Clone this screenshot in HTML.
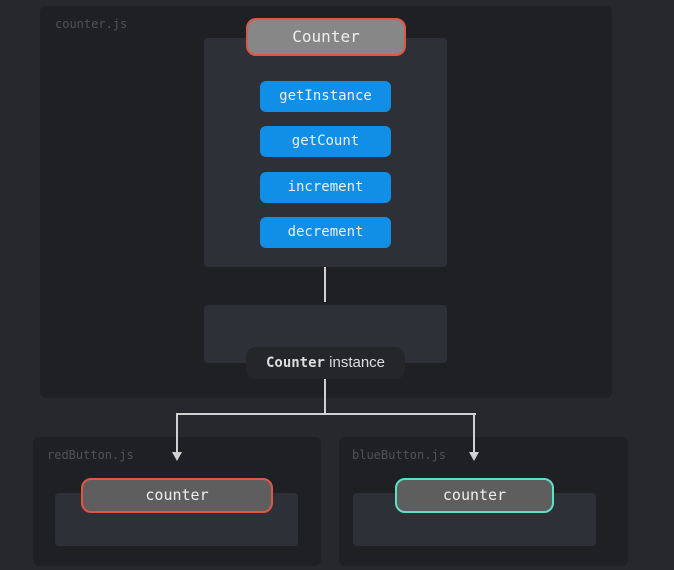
<!DOCTYPE html>
<html><head><meta charset="utf-8"><style>
body{margin:0;width:674px;height:570px;background:#27282c;position:relative;overflow:hidden;font-family:"DejaVu Sans Mono","Liberation Mono",monospace}
div{position:absolute;box-sizing:border-box}
.c{background:#1f2023;border-radius:6px}
.in{background:#2e3038;border-radius:4px}
.lbl{color:#505256;font-size:12px}
.b{background:#118fe6;border-radius:6px;color:#eef;font-size:14px;text-align:center;line-height:31px;left:260px;width:131px;height:31px}
.p{border-radius:10px;color:#eee;text-align:center;font-size:15px;background:#5e5e5e;border:2px solid #e05545}
.v{background:#d0d0d0;width:2px}
.ar{width:0;height:0;border-left:5px solid transparent;border-right:5px solid transparent;border-top:9px solid #d0d0d0}
</style></head><body>
<div class="c" style="left:40px;top:6px;width:572px;height:392px"></div>
<div class="lbl" style="left:55px;top:17px">counter.js</div>
<div class="in" style="left:204px;top:38px;width:243px;height:229px"></div>
<div class="p" style="left:246px;top:18px;width:160px;height:38px;line-height:34px;background:#878787;font-size:16px">Counter</div>
<div class="b" style="top:81px">getInstance</div>
<div class="b" style="top:126px">getCount</div>
<div class="b" style="top:172px">increment</div>
<div class="b" style="top:217px">decrement</div>
<div class="v" style="left:324px;top:267px;height:35px"></div>
<div class="in" style="left:204px;top:305px;width:243px;height:58px"></div>
<div style="left:246px;top:347px;width:159px;height:32px;background:#25262a;border-radius:10px;color:#ddd;font-size:14px;text-align:center;line-height:32px"><b>Counter</b><span style="font-family:'Liberation Sans',sans-serif;font-size:15px"> instance</span></div>
<div class="c" style="left:33px;top:437px;width:288px;height:129px"></div>
<div class="c" style="left:339px;top:437px;width:289px;height:129px"></div>
<div class="v" style="left:324px;top:379px;height:35px"></div>
<div style="left:176px;top:413px;width:300px;height:2px;background:#d0d0d0"></div>
<div class="v" style="left:176px;top:413px;height:40px"></div>
<div class="v" style="left:473px;top:413px;height:40px"></div>
<div class="ar" style="left:172px;top:452px"></div>
<div class="ar" style="left:469px;top:452px"></div>
<div class="lbl" style="left:47px;top:448px">redButton.js</div>
<div class="lbl" style="left:352px;top:448px">blueButton.js</div>
<div class="in" style="left:55px;top:493px;width:243px;height:53px"></div>
<div class="in" style="left:353px;top:493px;width:243px;height:53px"></div>
<div class="p" style="left:81px;top:478px;width:192px;height:35px;line-height:31px">counter</div>
<div class="p" style="left:395px;top:478px;width:159px;height:35px;line-height:31px;border-color:#5fe0c6">counter</div>
</body></html>
